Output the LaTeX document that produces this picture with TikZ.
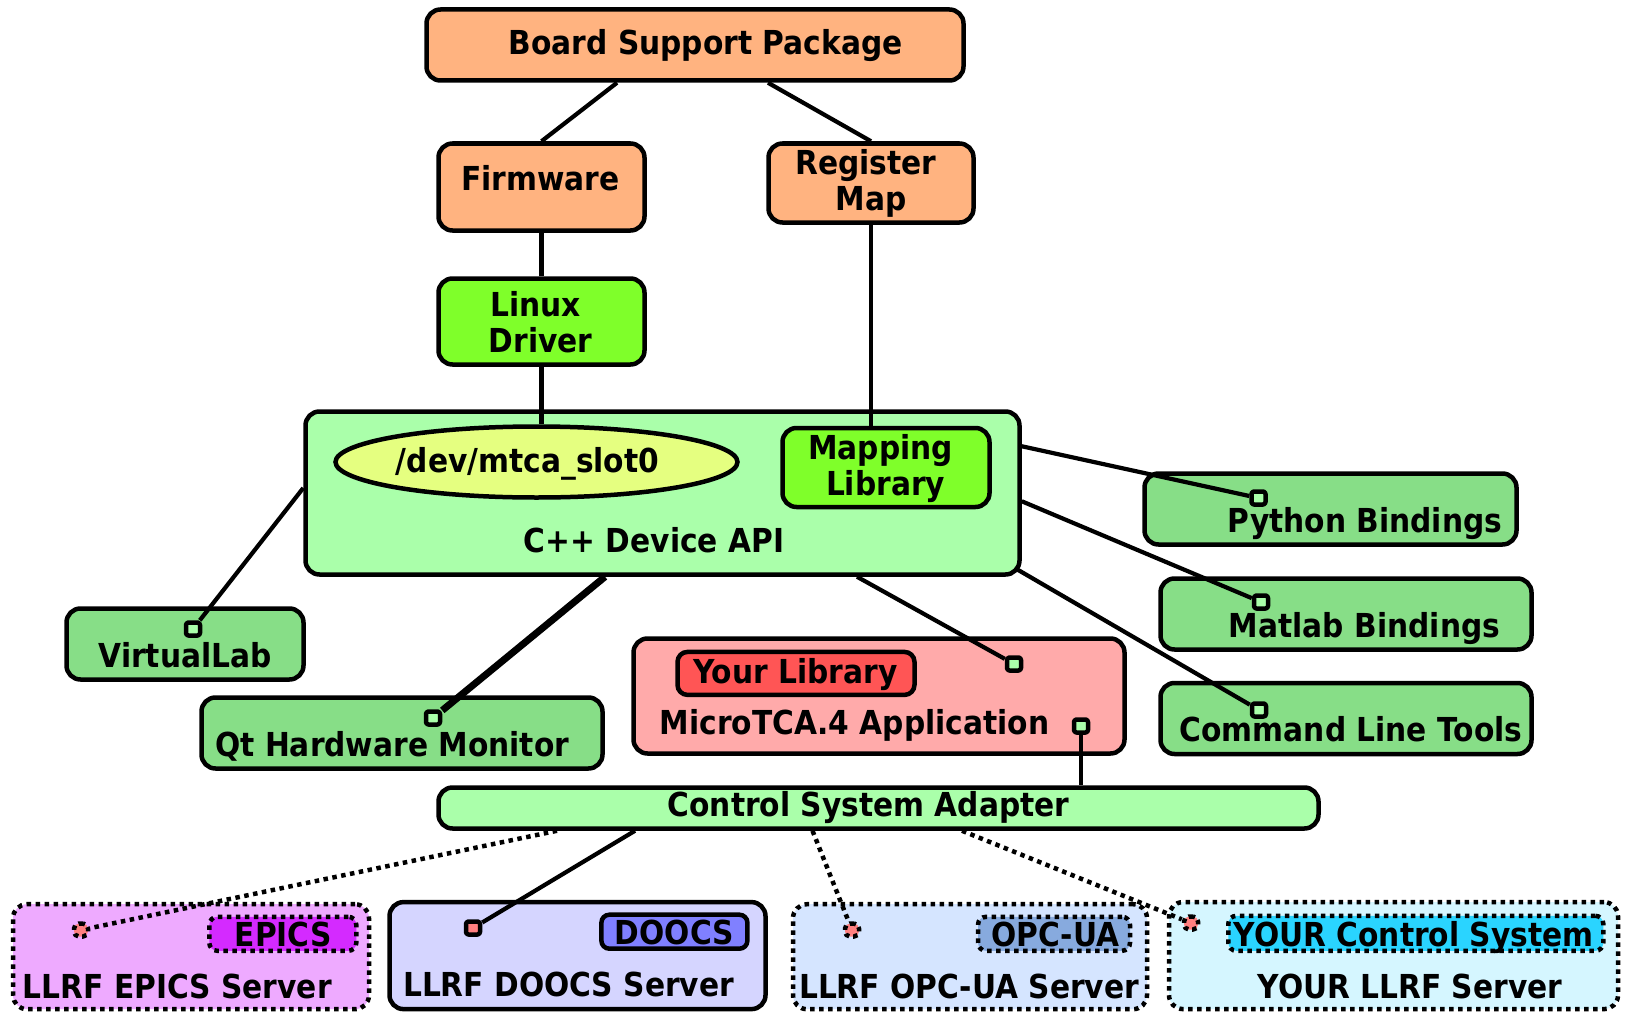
\documentclass[tikz,border=0pt]{standalone}
\usepackage{fontspec}
\setmainfont{DejaVu Sans}[FakeStretch=0.9]
\usetikzlibrary{calc,shapes.geometric}
\pgfdeclarelayer{boxes}
\pgfdeclarelayer{links}
\pgfsetlayers{boxes,links,main}
\definecolor{cOrange}{HTML}{FFB380}
\definecolor{cLime}{HTML}{7FFF2A}
\definecolor{cMint}{HTML}{AAFFAA}
\definecolor{cYellow}{HTML}{E5FF80}
\definecolor{cGreen}{HTML}{87DE87}
\definecolor{cPink}{HTML}{FFAAAA}
\definecolor{cRed}{HTML}{FF5555}
\definecolor{cEpicsBg}{HTML}{EEAAFF}
\definecolor{cEpics}{HTML}{D42AFF}
\definecolor{cDoocsBg}{HTML}{D5D5FF}
\definecolor{cDoocs}{HTML}{8080FF}
\definecolor{cOpcBg}{HTML}{D5E5FF}
\definecolor{cOpc}{HTML}{87AADE}
\definecolor{cYourBg}{HTML}{D5F6FF}
\definecolor{cYour}{HTML}{2AD4FF}
\definecolor{cPortR}{HTML}{FF8080}
\tikzset{
  sz/.style 2 args={minimum width=#1, minimum height=#2},
  box/.style={draw, line width=4.5pt, rounded corners=14pt, inner sep=0pt},
  dbox/.style={box, dash pattern=on 4.5pt off 4.5pt},
  port/.style={draw, line width=4.5pt, minimum width=14pt, minimum height=13pt, inner sep=0pt, rounded corners=2.5pt},
  dport/.style={port, dash pattern=on 4.5pt off 4pt, rounded corners=5pt},
  link/.style={line width=4.2pt},
  dlink/.style={line width=4.5pt, dash pattern=on 4.5pt off 4.5pt},
  txt/.style={font=\fontsize{33}{36}\selectfont\bfseries, inner sep=0pt, anchor=base},
}
\begin{document}
\begin{tikzpicture}[x=1pt,y=-1pt,line join=round]
\useasboundingbox (0,0) rectangle (1627,1014);

\begin{pgfonlayer}{boxes}
\fill[white] (0,0) rectangle (1627,1014);
\node[box, fill=cOrange, sz={537pt}{71pt}] (bsp) at (695,45) {};
\node[box, fill=cOrange, sz={206pt}{87pt}] (fw) at (541.5,187) {};
\node[box, fill=cOrange, sz={205pt}{79pt}] (reg) at (871,183) {};
\node[box, fill=cLime, sz={206pt}{86pt}] (ld) at (541.5,321.5) {};
\node[box, fill=cMint, sz={714pt}{163pt}] (api) at (662.5,493) {};
\node[ellipse, draw, line width=4.5pt, fill=cYellow, minimum width=402pt, minimum height=71pt, inner sep=0pt] (dev) at (536.5,462) {};
\node[box, fill=cLime, sz={207pt}{79pt}] (map) at (886,467.5) {};
\node[box, fill=cGreen, sz={372pt}{71pt}] (py) at (1330.5,509) {};
\node[box, fill=cGreen, sz={371pt}{71pt}] (ml) at (1346,614) {};
\node[box, fill=cGreen, sz={371pt}{71pt}] (clt) at (1346,718.5) {};
\node[box, fill=cGreen, sz={237pt}{71pt}] (vl) at (185,644) {};
\node[box, fill=cGreen, sz={401pt}{71pt}] (qt) at (402,733) {};
\node[box, fill=cPink, sz={491pt}{115pt}] (mtca) at (879,696) {};
\node[box, fill=cRed, rounded corners=10pt, sz={237pt}{43pt}] (lib) at (796,673.4) {};
\node[box, fill=cMint, sz={880pt}{41pt}] (csa) at (878.5,808) {};
\node[dbox, fill=cEpicsBg, sz={356pt}{105pt}] (epics) at (191,956.7) {};
\node[dbox, fill=cEpics, rounded corners=8pt, sz={147pt}{34pt}] (epicstag) at (282.8,933.8) {};
\node[box, fill=cDoocsBg, sz={376pt}{107pt}] (doocs) at (577.5,955.6) {};
\node[box, fill=cDoocs, rounded corners=8pt, sz={146pt}{34pt}] (doocstag) at (674.4,931.7) {};
\node[dbox, fill=cOpcBg, sz={354pt}{105pt}] (opc) at (970,956.7) {};
\node[dbox, fill=cOpc, rounded corners=8pt, sz={152pt}{34pt}] (opctag) at (1054,933.8) {};
\node[dbox, fill=cYourBg, sz={449pt}{107pt}] (your) at (1393.5,955.6) {};
\node[dbox, fill=cYour, rounded corners=8pt, sz={375pt}{35pt}] (yourtag) at (1415.8,933.3) {};
\end{pgfonlayer}

% ports
\node[port, fill=cMint] (p_py) at (1258.5,498) {};
\node[port, fill=cMint] (p_ml) at (1261,602) {};
\node[port, fill=cMint] (p_clt) at (1259,710) {};
\node[port, fill=cMint] (p_vl) at (193,629) {};
\node[port, fill=cMint] (p_qt) at (433,718) {};
\node[port, fill=cMint] (p_m1) at (1014,664) {};
\node[port, fill=cMint] (p_m2) at (1081,726) {};
\node[dport, fill=cPortR] (p_ep) at (81,930) {};
\node[port, fill=cPortR] (p_do) at (473,928) {};
\node[dport, fill=cPortR] (p_op) at (852,930) {};
\node[dport, fill=cPortR] (p_yo) at (1191,923) {};

\begin{pgfonlayer}{links}
\draw[link] ([xshift=-78pt]bsp.south) -- (fw.north);
\draw[link] ([xshift=73pt]bsp.south) -- (reg.north);
\draw[link] (fw.south) -- (ld.north);
\draw[link] (ld.south) -- (ld.south |- dev.north);
\draw[link] (reg.south) -- (reg.south |- map.north);
\draw[link] ([yshift=-37pt]api.north east) -- (p_py);
\draw[link] ([yshift=-92pt]api.north east) -- (p_ml);
\draw[link] ([xshift=-4pt,yshift=7pt]api.south east) -- (p_clt);
\draw[link] ([yshift=5pt]api.west) -- (p_vl);
\draw[link, line width=7pt] ([xshift=-57.5pt]api.south) -- (p_qt);
\draw[link] ([xshift=194.5pt]api.south) -- (p_m1);
\draw[link] (p_m2) -- (p_m2 |- csa.north);
\draw[dlink] ([xshift=-321.5pt]csa.south) -- (p_ep);
\draw[link] ([xshift=-243.5pt]csa.south) -- (p_do);
\draw[dlink] ([xshift=-66pt]csa.south) -- (p_op);
\draw[dlink] ([xshift=83.5pt]csa.south) -- (p_yo);
\end{pgfonlayer}

% texts
\node[txt] (t_bsp) at (705.6,55) {Board Support Package};
\node[txt] (t_fw) at (540.6,190) {Firmware};
\node[txt, align=center] (t_reg) at (871,210.6) {Register\kern10pt\\Map};
\node[txt, align=center] (t_ld) at (540.6,352.8) {Linux\kern10pt\\Driver};
\node[txt, align=center] (t_map) at (885.6,495) {Mapping\kern10pt\\Library};
\node[txt] (t_dev) at (527.6,472) {/dev/mtca\_slot0};
\node[txt] (t_api) at (654,552) {C++ Device API};
\node[txt] (t_py) at (1365,532.3) {Python Bindings};
\node[txt] (t_ml) at (1364.5,637) {Matlab Bindings};
\node[txt] (t_clt) at (1351,741.9) {Command Line Tools};
\node[txt] (t_vl) at (185.2,667.2) {VirtualLab};
\node[txt] (t_qt) at (392.2,756.4) {Qt Hardware Monitor};
\node[txt] (t_lib) at (795.3,683.8) {Your Library};
\node[txt] (t_mtca) at (854.5,734.6) {MicroTCA.4 Application};
\node[txt] (t_csa) at (868.5,816.6) {Control System Adapter};
\node[txt] (t_epicstag) at (283.3,946.3) {EPICS};
\node[txt] (t_doocstag) at (674.4,944.2) {DOOCS};
\node[txt] (t_opctag) at (1055.2,946.3) {OPC-UA};
\node[txt] (t_yourtag) at (1413.7,946.3) {YOUR Control System};
\node[txt] (t_epics) at (177.4,998.2) {LLRF EPICS Server};
\node[txt] (t_doocs) at (568.6,996.1) {LLRF DOOCS Server};
\node[txt] (t_opc) at (969.1,998.2) {LLRF OPC-UA Server};
\node[txt] (t_your) at (1410,998.2) {YOUR LLRF Server};
\end{tikzpicture}
\end{document}
